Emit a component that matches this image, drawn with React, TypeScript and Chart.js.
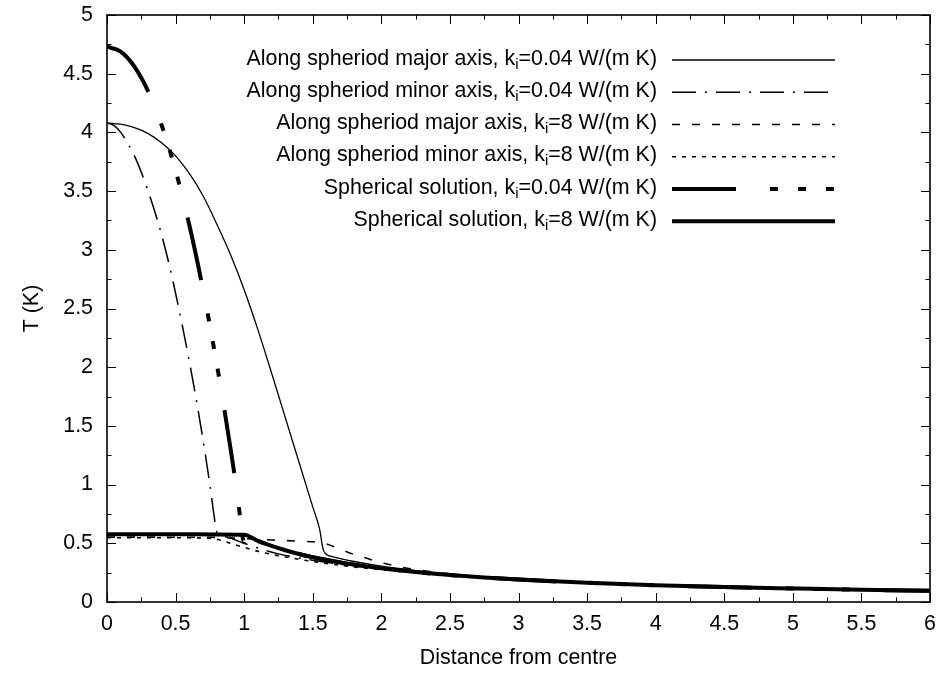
import React, { useEffect, useRef } from "react";
import { Chart, registerables } from "chart.js";

Chart.register(...registerables);

const FONT = '"Liberation Sans", Arial, Helvetica, sans-serif';

// ---- axes ----
const xTicks = [0, 0.5, 1, 1.5, 2, 2.5, 3, 3.5, 4, 4.5, 5, 5.5, 6];
const xTickLabels = ["0", "0.5", "1", "1.5", "2", "2.5", "3", "3.5", "4", "4.5", "5", "5.5", "6"];
const yTicks = [0, 0.5, 1, 1.5, 2, 2.5, 3, 3.5, 4, 4.5, 5];
const yTickLabels = ["0", "0.5", "1", "1.5", "2", "2.5", "3", "3.5", "4", "4.5", "5"];
const xTitle = "Distance from centre";
const yTitle = "T (K)";

// ---- series: Along spheroid major axis, ki = 0.04 ----
const majorLowX = [0, 0.1, 0.2, 0.3, 0.4, 0.5, 0.6, 0.7, 0.8, 0.9, 1.0, 1.1, 1.2, 1.3, 1.4, 1.5, 1.55, 1.575, 1.6, 1.65, 1.7, 1.8, 2.0, 2.25, 2.5, 3.0, 3.5, 4.0, 4.5, 5.0, 5.5, 6.0];
const majorLowT = [4.08, 4.07, 4.04, 3.99, 3.91, 3.8, 3.65, 3.46, 3.22, 2.96, 2.66, 2.32, 1.95, 1.57, 1.19, 0.81, 0.62, 0.45, 0.405, 0.385, 0.37, 0.345, 0.305, 0.268, 0.238, 0.196, 0.166, 0.145, 0.129, 0.116, 0.105, 0.096];

// ---- Along spheroid minor axis, ki = 0.04 ----
const minorLowX = [0, 0.05, 0.1, 0.15, 0.2, 0.25, 0.3, 0.35, 0.4, 0.45, 0.5, 0.55, 0.6, 0.65, 0.7, 0.75, 0.78, 0.8, 0.82, 0.9, 1.0, 1.1, 1.25, 1.5, 1.75, 2.0, 2.5, 3.0, 3.5, 4.0, 5.0, 6.0];
const minorLowT = [4.08, 4.06, 4.0, 3.91, 3.8, 3.66, 3.5, 3.32, 3.12, 2.89, 2.63, 2.35, 2.05, 1.73, 1.38, 1.0, 0.74, 0.6, 0.575, 0.545, 0.5, 0.46, 0.41, 0.355, 0.315, 0.283, 0.232, 0.195, 0.166, 0.145, 0.116, 0.096];

// ---- Along spheroid major axis, ki = 8 ----
const majorHighX = [0, 0.5, 0.8, 1.0, 1.2, 1.4, 1.55, 1.6, 1.7, 1.8, 1.9, 2.0, 2.1, 2.2, 2.35, 2.5, 2.65, 3.0, 3.5, 4.0, 4.5, 5.0, 5.5, 6.0];
const majorHighT = [0.553, 0.552, 0.55, 0.54, 0.528, 0.518, 0.508, 0.495, 0.45, 0.405, 0.37, 0.335, 0.308, 0.285, 0.26, 0.24, 0.222, 0.195, 0.166, 0.145, 0.129, 0.116, 0.105, 0.096];

// ---- Along spheroid minor axis, ki = 8 ----
const minorHighX = [0, 0.5, 0.7, 0.8, 0.9, 1.0, 1.1, 1.25, 1.5, 1.75, 2.0, 2.25, 2.5, 3.0, 3.5, 4.0, 4.5, 5.0, 5.5, 6.0];
const minorHighT = [0.548, 0.547, 0.545, 0.535, 0.5, 0.465, 0.432, 0.395, 0.345, 0.305, 0.275, 0.25, 0.228, 0.193, 0.165, 0.144, 0.128, 0.115, 0.105, 0.096];

// ---- Spherical solution, ki = 0.04 ----
const sphLowX = [0, 0.1, 0.2, 0.3, 0.4, 0.5, 0.6, 0.7, 0.8, 0.85, 0.9, 0.95, 1.0, 1.01, 1.1, 1.2, 1.3, 1.4, 1.5, 1.75, 2.0, 2.5, 3.0, 3.5, 4.0, 4.5, 5.0, 5.5, 6.0];
const sphLowT = [4.73, 4.688, 4.561, 4.35, 4.055, 3.675, 3.211, 2.662, 2.029, 1.681, 1.312, 0.922, 0.51, 0.568, 0.521, 0.478, 0.441, 0.409, 0.382, 0.327, 0.287, 0.229, 0.191, 0.164, 0.143, 0.127, 0.115, 0.104, 0.0955];

// ---- Spherical solution, ki = 8 ----
const sphHighX = [0, 0.5, 0.8, 1.0, 1.1, 1.2, 1.3, 1.4, 1.5, 1.6, 1.75, 2.0, 2.25, 2.5, 2.75, 3.0, 3.5, 4.0, 4.5, 5.0, 5.5, 6.0];
const sphHighT = [0.578, 0.577, 0.575, 0.573, 0.521, 0.478, 0.441, 0.409, 0.382, 0.358, 0.327, 0.287, 0.255, 0.229, 0.208, 0.191, 0.164, 0.143, 0.127, 0.115, 0.104, 0.0955];

// ---- legend text ----
const legendPrefix = [
  "Along spheriod major axis, k",
  "Along spheriod minor axis, k",
  "Along spheriod major axis, k",
  "Along spheriod minor axis, k",
  "Spherical solution, k",
  "Spherical solution, k",
];
const legendSub = "i";
const legendSuffix = [
  "=0.04 W/(m K)",
  "=0.04 W/(m K)",
  "=8 W/(m K)",
  "=8 W/(m K)",
  "=0.04 W/(m K)",
  "=8 W/(m K)",
];

const seriesX = [majorLowX, minorLowX, majorHighX, minorHighX, sphLowX, sphHighX];
const seriesT = [majorLowT, minorLowT, majorHighT, minorHighT, sphLowT, sphHighT];

// styles (gnuplot-like dash types)
const styles = [
  { width: 1.3, dash: [] as number[] },
  { width: 1.5, dash: [24, 9, 2, 9] },
  { width: 1.6, dash: [8, 12] },
  { width: 1.6, dash: [4, 6] },
  { width: 4, dash: [64, 34, 8, 20, 8, 20, 8, 34] },
  { width: 4, dash: [] as number[] },
];

const W = 944;
const H = 674;
const FS = 21.4;

const framePlugin = {
  id: "gnuplotFrame",
  beforeDraw(chart: any) {
    const ctx = chart.ctx;
    ctx.save();
    ctx.fillStyle = "#fff";
    ctx.fillRect(0, 0, chart.width, chart.height);
    ctx.restore();
  },
  afterDatasetsDraw(chart: any) {
    const { ctx, chartArea: a } = chart;
    const xs = chart.scales.x;
    const ys = chart.scales.y;
    ctx.save();
    ctx.strokeStyle = "#000";
    ctx.setLineDash([]);
    ctx.lineWidth = 1;
    const major = 9;
    const minor = 4.5;
    ctx.beginPath();
    xTicks.forEach((v, i) => {
      const px = Math.round(xs.getPixelForValue(v)) + 0.5;
      ctx.moveTo(px, a.bottom);
      ctx.lineTo(px, a.bottom - major);
      ctx.moveTo(px, a.top);
      ctx.lineTo(px, a.top + major);
      if (i < xTicks.length - 1) {
        const mv = (v + xTicks[i + 1]) / 2;
        const mx = Math.round(xs.getPixelForValue(mv)) + 0.5;
        ctx.moveTo(mx, a.bottom);
        ctx.lineTo(mx, a.bottom - minor);
        ctx.moveTo(mx, a.top);
        ctx.lineTo(mx, a.top + minor);
      }
    });
    yTicks.forEach((v, i) => {
      const py = Math.round(ys.getPixelForValue(v)) + 0.5;
      ctx.moveTo(a.left, py);
      ctx.lineTo(a.left + major, py);
      ctx.moveTo(a.right, py);
      ctx.lineTo(a.right - major, py);
      if (i < yTicks.length - 1) {
        const mv = (v + yTicks[i + 1]) / 2;
        const my = Math.round(ys.getPixelForValue(mv)) + 0.5;
        ctx.moveTo(a.left, my);
        ctx.lineTo(a.left + minor, my);
        ctx.moveTo(a.right, my);
        ctx.lineTo(a.right - minor, my);
      }
    });
    ctx.stroke();

    // border
    ctx.lineWidth = 1.6;
    ctx.strokeRect(a.left, a.top, a.right - a.left, a.bottom - a.top);

    // legend
    const mainFont = `${FS}px ${FONT}`;
    const subFont = `15px ${FONT}`;
    ctx.fillStyle = "#000";
    ctx.textBaseline = "alphabetic";
    ctx.textAlign = "left";
    const textRight = 657;
    const sampleL = 672;
    const sampleR = 835;
    legendPrefix.forEach((pre, i) => {
      const rowY = 60 + i * 32.25;
      const base = rowY + 4.5;
      ctx.font = mainFont;
      const w1 = ctx.measureText(pre).width;
      const w3 = ctx.measureText(legendSuffix[i]).width;
      ctx.font = subFont;
      const w2 = ctx.measureText(legendSub).width;
      const start = textRight - (w1 + w2 + w3);
      ctx.font = mainFont;
      ctx.fillText(pre, start, base);
      ctx.font = subFont;
      ctx.fillText(legendSub, start + w1, base + 4);
      ctx.font = mainFont;
      ctx.fillText(legendSuffix[i], start + w1 + w2, base);

      ctx.beginPath();
      ctx.lineWidth = styles[i].width;
      ctx.setLineDash(styles[i].dash);
      ctx.lineCap = "butt";
      ctx.moveTo(sampleL, rowY);
      ctx.lineTo(sampleR, rowY);
      ctx.stroke();
    });
    ctx.setLineDash([]);

    // axis titles
    ctx.font = `${FS}px ${FONT}`;
    ctx.textAlign = "center";
    ctx.textBaseline = "alphabetic";
    ctx.fillText(xTitle, (a.left + a.right) / 2, 664);
    ctx.save();
    ctx.translate(38, (a.top + a.bottom) / 2);
    ctx.rotate(-Math.PI / 2);
    ctx.fillText(yTitle, 0, 0);
    ctx.restore();

    ctx.restore();
  },
};

export default function App() {
  const ref = useRef<HTMLCanvasElement | null>(null);

  useEffect(() => {
    if (!ref.current) return;
    const datasets = seriesX.map((xs, i) => ({
      label: legendPrefix[i] + legendSub + legendSuffix[i],
      data: xs.map((x, j) => ({ x, y: seriesT[i][j] })),
      showLine: true,
      borderColor: "#000",
      backgroundColor: "#000",
      borderWidth: styles[i].width,
      borderDash: styles[i].dash,
      borderCapStyle: "butt" as const,
      pointRadius: 0,
      fill: false,
      cubicInterpolationMode: "monotone" as const,
      order: seriesX.length - 1 - i,
    }));

    const chart = new Chart(ref.current, {
      type: "scatter",
      data: { datasets },
      options: {
        responsive: false,
        animation: false,
        events: [],
        layout: { padding: { left: 0, right: 14, top: 15, bottom: 0 } },
        plugins: {
          legend: { display: false },
          tooltip: { enabled: false },
          title: { display: false },
        },
        scales: {
          x: {
            type: "linear",
            min: 0,
            max: 6,
            afterBuildTicks: (s: any) => {
              s.ticks = xTicks.map((v) => ({ value: v }));
            },
            afterFit: (s: any) => {
              s.height = 72;
              s.paddingLeft = 0;
              s.paddingRight = 0;
              s.paddingTop = 0;
              s.paddingBottom = 0;
            },
            grid: { display: false, drawTicks: false },
            border: { display: false },
            ticks: {
              color: "#000",
              font: { family: FONT, size: FS },
              padding: 9,
              maxRotation: 0,
              autoSkip: false,
              callback: (_v: any, i: number) => xTickLabels[i],
            },
          },
          y: {
            type: "linear",
            min: 0,
            max: 5,
            afterBuildTicks: (s: any) => {
              s.ticks = yTicks.map((v) => ({ value: v }));
            },
            afterFit: (s: any) => {
              s.width = 107;
              s.paddingLeft = 0;
              s.paddingRight = 0;
              s.paddingTop = 0;
              s.paddingBottom = 0;
            },
            grid: { display: false, drawTicks: false },
            border: { display: false },
            ticks: {
              color: "#000",
              font: { family: FONT, size: FS },
              padding: 14,
              autoSkip: false,
              callback: (_v: any, i: number) => yTickLabels[i],
            },
          },
        },
      },
      plugins: [framePlugin],
    });
    return () => chart.destroy();
  }, []);

  return (
    <div style={{ position: "fixed", left: 0, top: 0, width: W, height: H, background: "#fff" }}>
      <canvas ref={ref} width={W} height={H} style={{ display: "block", width: W, height: H }} />
    </div>
  );
}
